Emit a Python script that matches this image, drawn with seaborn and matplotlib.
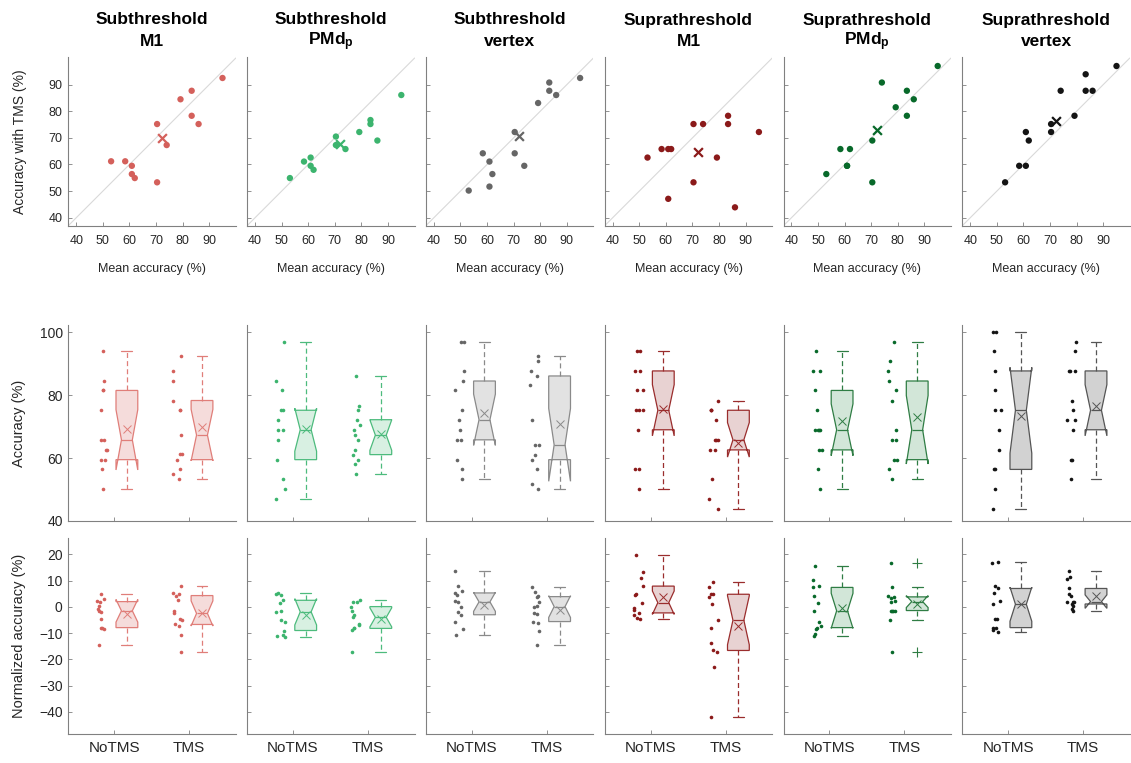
import numpy as np
import pandas as pd
import matplotlib
matplotlib.use("Agg")
import matplotlib.pyplot as plt
import seaborn as sns

sns.set_style("ticks")
plt.rcParams['font.family'] = ['Liberation Sans', 'DejaVu Sans']
plt.rcParams['mathtext.fontset'] = 'custom'
plt.rcParams['mathtext.rm'] = 'Liberation Sans'
plt.rcParams['mathtext.bf'] = 'Liberation Sans:bold'
plt.rcParams['mathtext.it'] = 'Liberation Sans:italic'

# ---------------- data ----------------
title_top = ["Subthreshold", "Subthreshold", "Subthreshold",
             "Suprathreshold", "Suprathreshold", "Suprathreshold"]
title_bottom = ["M1", "PMd$_\\mathbf{p}$", "vertex", "M1", "PMd$_\\mathbf{p}$", "vertex"]
groups = ["NoTMS", "TMS"]

# per-subject mean accuracy (x of the scatter plots)
mean_acc = [95.0, 83.4, 79.2, 83.4, 86.0, 70.4, 74.0, 53.1, 58.4, 60.9, 60.9, 62.0, 70.4]

# accuracy with TMS, same subject order as mean_acc
sub_m1_tms = [92.5, 87.7, 84.5, 78.3, 75.2, 75.2, 67.3, 61.2, 61.2, 59.5, 56.4, 54.9, 53.3]
sub_pmd_tms = [86.1, 76.7, 72.2, 75.2, 69.0, 70.5, 65.8, 54.9, 61.1, 62.6, 59.5, 58.0, 67.3]
sub_vertex_tms = [92.5, 90.8, 83.1, 87.7, 86.1, 72.2, 59.5, 50.2, 64.2, 61.1, 51.7, 56.4, 64.2]
supra_m1_tms = [72.2, 78.3, 62.6, 75.2, 43.9, 75.2, 75.2, 62.6, 65.8, 65.8, 47.1, 65.8, 53.3]
supra_pmd_tms = [97.0, 87.7, 81.5, 78.3, 84.5, 69.0, 90.8, 56.4, 65.8, 59.5, 59.5, 65.8, 53.3]
supra_vertex_tms = [97.0, 93.9, 78.3, 87.7, 87.7, 75.2, 87.7, 53.3, 59.5, 72.2, 59.5, 69.0, 72.2]

# accuracy without TMS
sub_m1_no = [93.9, 84.5, 81.5, 81.5, 75.2, 65.8, 65.8, 62.6, 62.6, 59.5, 59.5, 56.4, 50.2]
sub_pmd_no = [97.0, 84.5, 81.5, 75.2, 75.2, 72.2, 69.0, 69.0, 65.8, 59.5, 53.3, 50.2, 47.1]
sub_vertex_no = [97.0, 97.0, 87.7, 84.5, 81.5, 75.2, 72.2, 69.0, 65.8, 65.8, 59.5, 56.4, 53.3]
supra_m1_no = [93.9, 93.9, 87.7, 87.7, 81.5, 81.5, 75.2, 75.2, 75.2, 69.0, 56.4, 56.4, 50.2]
supra_pmd_no = [93.9, 87.7, 87.7, 81.5, 75.2, 69.0, 69.0, 69.0, 69.0, 62.6, 62.6, 56.4, 50.2]
supra_vertex_no = [100.0, 100.0, 93.9, 87.7, 81.5, 75.2, 75.2, 69.0, 62.6, 56.4, 56.4, 50.2, 43.9]

# normalized accuracy
sub_m1_no_n = [4.8, 2.9, 2.3, 2.0, 0.5, -1.0, -1.5, -2.0, -4.6, -7.9, -8.1, -8.4, -14.6]
sub_m1_tms_n = [8.1, 5.3, 4.8, 4.3, 2.8, -1.4, -2.5, -4.5, -5.1, -6.7, -7.1, -10.8, -17.1]
sub_pmd_no_n = [5.3, 4.8, 4.7, 2.5, 1.5, -1.6, -1.9, -5.1, -5.8, -9.0, -10.9, -11.2, -11.4]
sub_pmd_tms_n = [2.7, 1.8, 1.7, 0.1, -1.4, -3.1, -4.0, -6.7, -7.0, -8.2, -8.2, -8.9, -17.0]
sub_vertex_no_n = [13.6, 7.9, 5.9, 5.3, 4.7, 2.2, 1.9, 0.0, -2.0, -3.0, -5.7, -8.4, -10.9]
sub_vertex_tms_n = [7.4, 5.8, 4.3, 3.9, 1.8, 0.2, 0.1, -2.5, -2.9, -5.6, -6.2, -9.2, -14.5]
supra_m1_no_n = [19.8, 13.1, 11.0, 7.9, 5.0, 4.7, 1.6, -0.5, -1.3, -2.3, -3.2, -4.2, -4.8]
supra_m1_tms_n = [9.5, 7.4, 4.9, 4.8, 3.8, 1.2, -5.1, -8.2, -13.8, -16.6, -17.1, -22.8, -42.1]
supra_pmd_no_n = [15.7, 10.4, 7.9, 7.4, 4.2, 1.6, -1.5, -5.6, -7.2, -7.9, -8.4, -10.5, -11.2]
supra_pmd_tms_n = [16.8, 7.4, 4.3, 3.8, 3.3, 2.3, 2.0, -1.4, -1.4, -1.4, -1.5, -5.1, -17.1]
supra_vertex_no_n = [17.1, 16.8, 7.9, 7.0, 5.3, 2.3, 1.0, -4.8, -4.8, -7.9, -8.2, -8.9, -9.5]
supra_vertex_tms_n = [13.7, 11.3, 10.5, 7.0, 4.8, 4.3, 2.0, 1.8, 1.7, 1.1, 0.2, -0.9, -1.4]

tms_list = [sub_m1_tms, sub_pmd_tms, sub_vertex_tms, supra_m1_tms, supra_pmd_tms, supra_vertex_tms]
no_list = [sub_m1_no, sub_pmd_no, sub_vertex_no, supra_m1_no, supra_pmd_no, supra_vertex_no]
no_n_list = [sub_m1_no_n, sub_pmd_no_n, sub_vertex_no_n, supra_m1_no_n, supra_pmd_no_n, supra_vertex_no_n]
tms_n_list = [sub_m1_tms_n, sub_pmd_tms_n, sub_vertex_tms_n, supra_m1_tms_n, supra_pmd_tms_n, supra_vertex_tms_n]

# ---------------- style ----------------
point_cols = ['#d4605b', '#3cb46e', '#666666', '#8b1a1a', '#08692a', '#141414']
fill_cols = ['#f5dcdb', '#d8f0e2', '#e2e2e2', '#e8d2d2', '#d2e6d8', '#d2d2d2']
edge_cols = ['#e07e79', '#4dbb7d', '#8a8a8a', '#9a2d2d', '#2f7d44', '#555555']

W, H = 1131, 763
fig = plt.figure(figsize=(W / 100, H / 100), dpi=100)


def px_axes(left, top, w, h):
    return fig.add_axes([left / W, 1 - (top + h) / H, w / W, h / H])


def style(ax, fs):
    for s in ['top', 'right']:
        ax.spines[s].set_visible(False)
    for s in ['left', 'bottom']:
        ax.spines[s].set_color('#808080')
        ax.spines[s].set_linewidth(0.8)
    ax.tick_params(direction='in', length=3, width=0.6, color='#808080',
                   labelcolor='#262626', labelsize=fs, pad=4)


pos_pts = [0.84, 1.84]
pos_box = [1.17, 2.17]

for i in range(6):
    left = 68.3 + i * 178.8
    w = 167.5
    c, fc, ec = point_cols[i], fill_cols[i], edge_cols[i]

    # ---------- top scatter ----------
    ax = px_axes(left, 56.7, w, 169)
    ax.axline((40, 40), (90, 90), color='#d9d9d9', lw=0.8, zorder=0)
    sns.scatterplot(x=mean_acc, y=tms_list[i], color=c, s=21, edgecolor='none',
                    ax=ax, legend=False, zorder=3)
    sns.scatterplot(x=[np.mean(mean_acc)], y=[np.mean(tms_list[i])], marker='x',
                    s=40, color=c, linewidth=1.6, ax=ax, legend=False, zorder=4)
    ax.set_xlim(37, 100)
    ax.set_ylim(37, 100.5)
    ax.set_xticks(range(40, 100, 10))
    ax.set_yticks(range(40, 100, 10))
    style(ax, 9)
    ax.tick_params(axis='x', pad=7)
    ax.set_xlabel('Mean accuracy (%)', fontsize=9, color='#262626')
    ax.xaxis.set_label_coords(0.5, -0.22)
    if i == 0:
        ax.set_ylabel('Accuracy with TMS (%)', fontsize=10, color='#262626')
        ax.yaxis.set_label_coords(-0.245, 0.5)
    else:
        ax.set_yticklabels([])
        ax.set_ylabel('')

    xc = (left + w / 2) / W
    fig.text(xc, 1 - 24.5 / H, title_top[i], ha='center', va='baseline',
             fontsize=12.5, fontweight='bold', color='black')
    fig.text(xc, 1 - 45.5 / H, title_bottom[i], ha='center', va='baseline',
             fontsize=12.5, fontweight='bold', color='black')

    # ---------- middle + bottom box plots ----------
    rows = [
        (325, 196, no_list[i], tms_list[i], (40, 102.3), range(40, 101, 20), 'Accuracy (%)'),
        (538.3, 195.7, no_n_list[i], tms_n_list[i], (-48.4, 26.1), range(-40, 21, 10),
         'Normalized accuracy (%)'),
    ]
    for r, (top, h, no_vals, tms_vals, ylim, yt, ylab) in enumerate(rows):
        ax = px_axes(left, top, w, h)
        n = len(no_vals)
        dpts = pd.DataFrame({'pos': [pos_pts[0]] * n + [pos_pts[1]] * len(tms_vals),
                             'val': list(no_vals) + list(tms_vals)})
        dbox = pd.DataFrame({'pos': [pos_box[0]] * n + [pos_box[1]] * len(tms_vals),
                             'val': list(no_vals) + list(tms_vals)})
        np.random.seed(10 * i + r)
        sns.stripplot(data=dpts, x='pos', y='val', native_scale=True, orient='x',
                      jitter=0.065, color=c, size=2.6, linewidth=0, ax=ax, zorder=3)
        sns.boxplot(data=dbox, x='pos', y='val', native_scale=True, orient='x',
                    width=0.29, notch=True, showmeans=True, saturation=1,
                    color=fc, linecolor=ec, linewidth=0.9, whis=1.5,
                    meanprops=dict(marker='x', markeredgecolor=ec, markerfacecolor=ec,
                                   markersize=6, markeredgewidth=0.7),
                    whiskerprops=dict(linestyle=(0, (4, 2.5))),
                    flierprops=dict(marker='+', markeredgecolor=ec, markersize=7,
                                    markeredgewidth=0.8),
                    ax=ax)
        ax.set_xlim(0.39, 2.62)
        ax.set_ylim(*ylim)
        ax.set_yticks(list(yt))
        ax.set_xticks([1, 2])
        style(ax, 10)
        ax.set_xlabel('')
        if r == 0:
            ax.set_xticklabels([])
        else:
            ax.set_xticklabels(groups, fontsize=11)
            ax.tick_params(axis='x', pad=5, labelsize=11)
        if i == 0:
            ax.set_ylabel(ylab, fontsize=10.5, color='#262626')
            ax.yaxis.set_label_coords(-0.255, 0.5)
        else:
            ax.set_yticklabels([])
            ax.set_ylabel('')

fig.savefig('out.png', dpi=100)
